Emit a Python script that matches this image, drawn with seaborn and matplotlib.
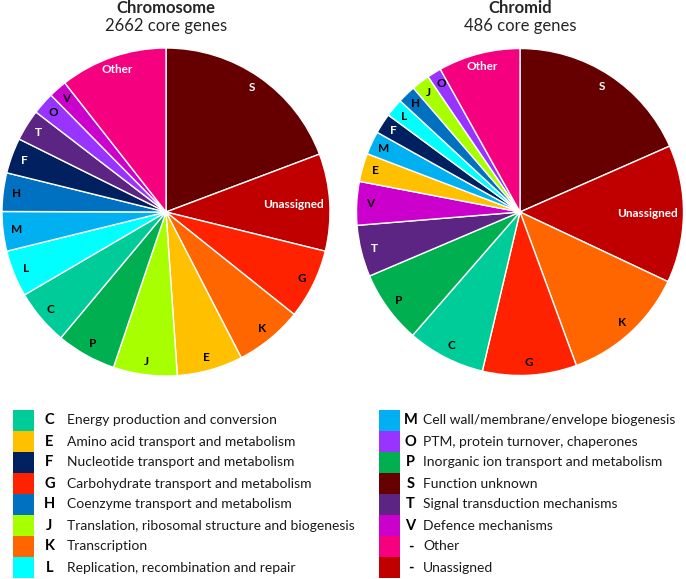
import numpy as np
import seaborn as sns
import matplotlib.pyplot as plt

sns.set_theme(style="white")
plt.rcParams["font.family"] = ["Lato", "DejaVu Sans"]

# COG categories (legend order)
codes = ["C", "E", "F", "G", "H", "J", "K", "L",
         "M", "O", "P", "S", "T", "V", "Other", "Unassigned"]
letters = ["C", "E", "F", "G", "H", "J", "K", "L",
           "M", "O", "P", "S", "T", "V", "-", "-"]
descriptions = [
    "Energy production and conversion",
    "Amino acid transport and metabolism",
    "Nucleotide transport and metabolism",
    "Carbohydrate transport and metabolism",
    "Coenzyme transport and metabolism",
    "Translation, ribosomal structure and biogenesis",
    "Transcription",
    "Replication, recombination and repair",
    "Cell wall/membrane/envelope biogenesis",
    "PTM, protein turnover, chaperones",
    "Inorganic ion transport and metabolism",
    "Function unknown",
    "Signal transduction mechanisms",
    "Defence mechanisms",
    "Other",
    "Unassigned",
]
colors = ["#00CC99", "#FFC000", "#002060", "#FF2200", "#0070C0", "#A8FF00",
          "#FF6600", "#00FFFF", "#00B0F0", "#9933FF", "#00B050", "#660000",
          "#5C2483", "#CC00CC", "#F5007F", "#C00000"]
palette = dict(zip(codes, colors))
white_labels = {"S", "Unassigned", "Other", "F", "T"}

# slice order (clockwise from 12 o'clock) and shares in %
chromosome_keys = ["S", "Unassigned", "G", "K", "E", "J", "P", "C",
                   "L", "M", "H", "F", "T", "O", "V", "Other"]
chromosome_pct = [19.3, 9.6, 6.9, 6.7, 6.5, 6.3, 5.9, 5.5,
                  4.6, 3.9, 3.8, 3.5, 3.1, 2.2, 1.8, 10.6]

chromid_keys = ["S", "Unassigned", "K", "G", "C", "P", "T", "V",
                "E", "M", "F", "L", "H", "J", "O", "Other"]
chromid_pct = [18.4, 13.6, 12.4, 9.3, 7.7, 7.2, 5.1, 4.3,
               2.8, 2.3, 2.0, 1.8, 1.8, 1.8, 1.4, 8.1]

W, H = 686, 579
fig = plt.figure(figsize=(W / 100, H / 100), dpi=100)


def px_axes(x0, y0, x1, y1):
    return fig.add_axes([x0 / W, 1 - y1 / H, (x1 - x0) / W, (y1 - y0) / H])


def draw_pie(ax, keys, values):
    wedges, texts = ax.pie(
        values, colors=[palette[k] for k in keys], labels=keys,
        startangle=90, counterclock=False, labeldistance=0.92,
        textprops=dict(fontsize=8.5, fontweight="bold"),
    )
    for t, k in zip(texts, keys):
        t.set_ha("center")
        t.set_va("center")
        t.set_color("white" if k in white_labels else "black")
        if k == "Unassigned":
            x, y = t.get_position()
            s = 0.78 / 0.92
            t.set_position((x * s, y * s))
    ax.set_xlim(-1, 1)
    ax.set_ylim(-1, 1)


ax1 = px_axes(2, 48, 330, 376)
draw_pie(ax1, chromosome_keys, chromosome_pct)
ax2 = px_axes(356.5, 48.5, 683.5, 375.5)
draw_pie(ax2, chromid_keys, chromid_pct)

fig.text(166 / W, 1 - 8 / H, "Chromosome", ha="center", va="center",
         fontsize=12, fontweight="bold")
fig.text(166 / W, 1 - 26.5 / H, "2662 core genes", ha="center", va="center",
         fontsize=12)
fig.text(520 / W, 1 - 8 / H, "Chromid", ha="center", va="center",
         fontsize=12, fontweight="bold")
fig.text(520 / W, 1 - 26.5 / H, "486 core genes", ha="center", va="center",
         fontsize=12)

# legend: two columns of 8 rows
lg = px_axes(0, 410, W, 578)
rows = np.arange(8) + 0.5
for col, (sq_x, let_x, txt_x) in enumerate([(12.7, 49.5, 66.7), (378.7, 410.5, 423)]):
    sl = slice(col * 8, col * 8 + 8)
    lg.barh(rows, 21.6, left=sq_x, height=1.0, color=colors[sl], linewidth=0)
    for r, let, desc in zip(rows, letters[sl], descriptions[sl]):
        lg.text(let_x, r, let, ha="center", va="center",
                fontsize=10.5, fontweight="bold", color="black")
        lg.text(txt_x, r, desc, ha="left", va="center",
                fontsize=10, color="#1a1a1a")
lg.set_xlim(0, W)
lg.set_ylim(8, 0)
lg.axis("off")

fig.savefig("out.png", dpi=100)
